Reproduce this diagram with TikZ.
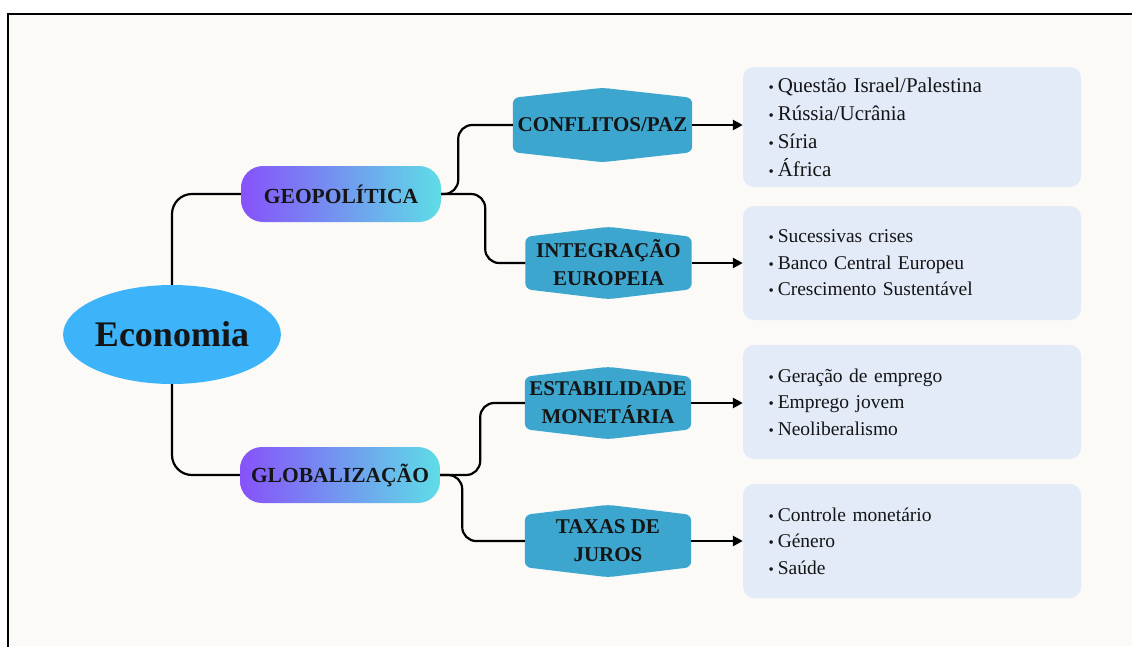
\documentclass[tikz,border=0pt]{standalone}
\usepackage{fontspec}
\setmainfont{Liberation Serif}
\usetikzlibrary{shapes.geometric,arrows.meta}
\pgfdeclarelayer{back}
\pgfdeclarelayer{background}
\pgfsetlayers{back,background,main}
\definecolor{cream}{HTML}{FCFAF7}
\definecolor{ecoblue}{HTML}{3DB4FA}
\definecolor{gpurple}{HTML}{8752FA}
\definecolor{gcyan}{HTML}{5EDDE6}
\definecolor{hexblue}{HTML}{3DA6CF}
\definecolor{boxblue}{HTML}{E3EAF8}
\definecolor{ink}{HTML}{151515}
\newcommand\bul{{\fontsize{15}{15}\selectfont\textbullet}\hspace{4pt}}
\begin{document}
\begin{tikzpicture}[x=1pt,y=-1pt,
 conn/.style={line width=2.2pt, black, rounded corners=14pt},
 arr/.style={line width=2.6pt, -{Triangle[length=10pt,width=10pt]}},
 topic/.style={rounded corners=22pt, left color=gpurple, right color=gcyan, minimum width=200pt, minimum height=56pt, inner sep=0pt, text=ink, font=\bfseries\fontsize{21.5}{26}\selectfont},
 hexlab/.style={minimum width=166pt, minimum height=52pt, inner sep=0pt, align=center, text=ink, font=\bfseries\fontsize{21}{28}\selectfont},
 hexfill/.style={fill=hexblue, rounded corners=6pt},
 infobox/.style={fill=boxblue, rounded corners=11pt, minimum width=338pt, minimum height=114pt, text width=287pt, inner xsep=25.5pt, inner ysep=0pt, align=left, text=ink, font=\fontsize{19.5}{26.5}\selectfont}
]
\useasboundingbox (0,0) rectangle (1132,646);
\begin{pgfonlayer}{back}
\fill[white] (0,0) rectangle (1132,646);
\fill[cream] (8,14) rectangle (1132,646);
\draw[line width=2.2pt] (8,652) -- (8,14) -- (1140,14);
\end{pgfonlayer}

% central node
\node[ellipse, fill=ecoblue, minimum width=200pt, minimum height=99pt, inner sep=0pt, text=ink,
      font=\bfseries\fontsize{36}{40}\selectfont] (eco) at (172,334.5) {Economia};

% topics
\node[topic] (geo) at (341,194) {GEOPOLÍTICA};
\node[topic] (glob) at (340,475) {GLOBALIZAÇÃO};

% hexagon labels
\node[hexlab, minimum width=179pt, minimum height=54pt] (conf) at (602.5,125) {CONFLITOS/PAZ};
\node[hexlab] (integ) at (608.5,263) {INTEGRAÇÃO\\EUROPEIA};
\node[hexlab] (estab) at (608,403) {ESTABILIDADE\\MONETÁRIA};
\node[hexlab] (taxas) at (608,541) {TAXAS DE\\JUROS};

\begin{pgfonlayer}{background}
\foreach \n in {conf,integ,estab,taxas}
  \fill[hexfill] (\n.north west) -- ([yshift=10pt]\n.north) -- (\n.north east)
     -- (\n.south east) -- ([yshift=-10pt]\n.south) -- (\n.south west) -- cycle;
\end{pgfonlayer}

% info boxes
\node[infobox, minimum height=120pt, font=\fontsize{21}{28}\selectfont] (b1) at (912,127)
  {\bul Questão Israel/Palestina\\ \bul Rússia/Ucrânia\\ \bul Síria\\ \bul África};
\node[infobox] (b2) at (912,263)
  {\bul Sucessivas crises\\ \bul Banco Central Europeu\\ \bul Crescimento Sustentável};
\node[infobox] (b3) at (912,402)
  {\bul Geração de emprego\\ \bul Emprego jovem\\ \bul Neoliberalismo};
\node[infobox] (b4) at (912,541)
  {\bul Controle monetário\\ \bul Género\\ \bul Saúde};

% connectors
\draw[conn, rounded corners=20pt] (eco.north) |- (geo.west);
\draw[conn, rounded corners=20pt] (eco.south) |- (glob.west);

\draw[conn] (geo.east) -- ([xshift=17pt]geo.east) |- (conf.west);
\draw[conn] (geo.east) -- ([xshift=44pt]geo.east) |- (integ.west);
\draw[conn] (glob.east) -- ([xshift=40pt]glob.east) |- (estab.west);
\draw[conn] (glob.east) -- ([xshift=22pt]glob.east) |- (taxas.west);

\draw[arr] (conf.east) -- (b1.west |- conf.east);
\draw[arr] (integ.east) -- (b2.west |- integ.east);
\draw[arr] (estab.east) -- (b3.west |- estab.east);
\draw[arr] (taxas.east) -- (b4.west |- taxas.east);
\end{tikzpicture}
\end{document}
